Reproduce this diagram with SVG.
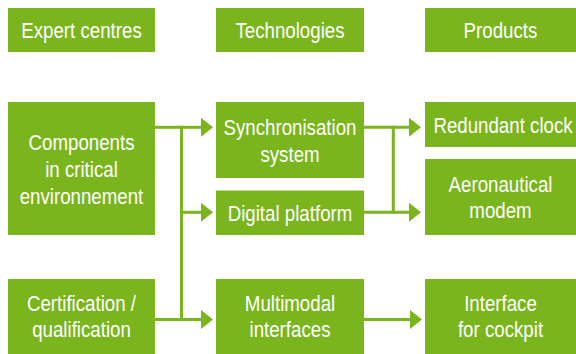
<svg xmlns="http://www.w3.org/2000/svg" width="576" height="354" viewBox="0 0 576 354">
  <style>
    .box { fill: #7AB51D; }
    .lbl { fill: #ffffff; font-family: "Liberation Sans", Arial, sans-serif; font-size: 22px; text-anchor: middle; }
    .wire { fill: none; stroke: #7AB51D; stroke-width: 3; }
  </style>
  <defs>
    <!-- filled triangular head; the path stops 8px short of the tip -->
    <marker id="head" markerUnits="userSpaceOnUse" markerWidth="12" markerHeight="19" refX="4" refY="9.5" orient="auto" overflow="visible">
      <path d="M0,0 L12,9.5 L0,19 Z" fill="#7AB51D"/>
    </marker>
  </defs>

  <rect width="576" height="354" fill="#ffffff"/>

  <!-- labels are set in a horizontally condensed sans: each text block is
       translated to its box centre and squeezed to 85% width -->

  <!-- column headers -->
  <g id="hdr-expert">
    <rect class="box" x="8" y="8" width="147" height="44"/>
    <g transform="translate(81.5 0) scale(0.85 1)"><text class="lbl" x="0" y="38.5">Expert centres</text></g>
  </g>
  <g id="hdr-tech">
    <rect class="box" x="216" y="8" width="148" height="44"/>
    <g transform="translate(290 0) scale(0.85 1)"><text class="lbl" x="0" y="38.5">Technologies</text></g>
  </g>
  <g id="hdr-products">
    <rect class="box" x="425" y="8" width="151" height="44"/>
    <g transform="translate(500.5 0) scale(0.85 1)"><text class="lbl" x="0" y="38.5">Products</text></g>
  </g>

  <!-- expert centres -->
  <g id="components">
    <rect class="box" x="8" y="102" width="147" height="133"/>
    <g transform="translate(81.5 0) scale(0.85 1)">
      <text class="lbl" x="0" y="150.5">Components</text>
      <text class="lbl" x="0" y="177.2">in critical</text>
      <text class="lbl" x="0" y="203.8">environnement</text>
    </g>
  </g>
  <g id="certification">
    <rect class="box" x="8" y="279" width="147" height="75"/>
    <g transform="translate(81.5 0) scale(0.85 1)">
      <text class="lbl" x="0" y="311">Certification /</text>
      <text class="lbl" x="0" y="337.5">qualification</text>
    </g>
  </g>

  <!-- technologies -->
  <g id="sync">
    <rect class="box" x="216" y="102" width="148" height="76"/>
    <g transform="translate(290 0) scale(0.85 1)">
      <text class="lbl" x="0" y="135.3">Synchronisation</text>
      <text class="lbl" x="0" y="162">system</text>
    </g>
  </g>
  <g id="digital">
    <rect class="box" x="216" y="190.5" width="148" height="44.5"/>
    <g transform="translate(290 0) scale(0.85 1)"><text class="lbl" x="0" y="220.8">Digital platform</text></g>
  </g>
  <g id="multimodal">
    <rect class="box" x="216" y="279" width="148" height="75"/>
    <g transform="translate(290 0) scale(0.85 1)">
      <text class="lbl" x="0" y="311">Multimodal</text>
      <text class="lbl" x="0" y="337.5">interfaces</text>
    </g>
  </g>

  <!-- products -->
  <g id="clock">
    <rect class="box" x="425" y="102" width="151" height="45"/>
    <g transform="translate(503 0) scale(0.85 1)"><text class="lbl" x="0" y="133">Redundant clock</text></g>
  </g>
  <g id="modem">
    <rect class="box" x="425" y="159" width="151" height="76"/>
    <g transform="translate(500.5 0) scale(0.85 1)">
      <text class="lbl" x="0" y="192">Aeronautical</text>
      <text class="lbl" x="0" y="218.5">modem</text>
    </g>
  </g>
  <g id="cockpit">
    <rect class="box" x="425" y="279" width="151" height="75"/>
    <g transform="translate(500.5 0) scale(0.85 1)">
      <text class="lbl" x="0" y="311">Interface</text>
      <text class="lbl" x="0" y="337.5">for cockpit</text>
    </g>
  </g>

  <!-- connectors -->
  <g id="connectors">
    <!-- shared bus from the expert centres -->
    <path class="wire" d="M155,127.3 H181.5"/>
    <path class="wire" d="M181.5,125.8 V321"/>
    <path class="wire" d="M181.5,127.3 H205" marker-end="url(#head)"/>
    <path class="wire" d="M181.5,212.3 H205" marker-end="url(#head)"/>
    <path class="wire" d="M155,319.6 H205" marker-end="url(#head)"/>

    <!-- technologies to products -->
    <path class="wire" d="M364,127.3 H413" marker-end="url(#head)"/>
    <path class="wire" d="M393.3,125.8 V213.8"/>
    <path class="wire" d="M364,212.3 H413" marker-end="url(#head)"/>
    <path class="wire" d="M364,319.6 H414" marker-end="url(#head)"/>
  </g>
</svg>
